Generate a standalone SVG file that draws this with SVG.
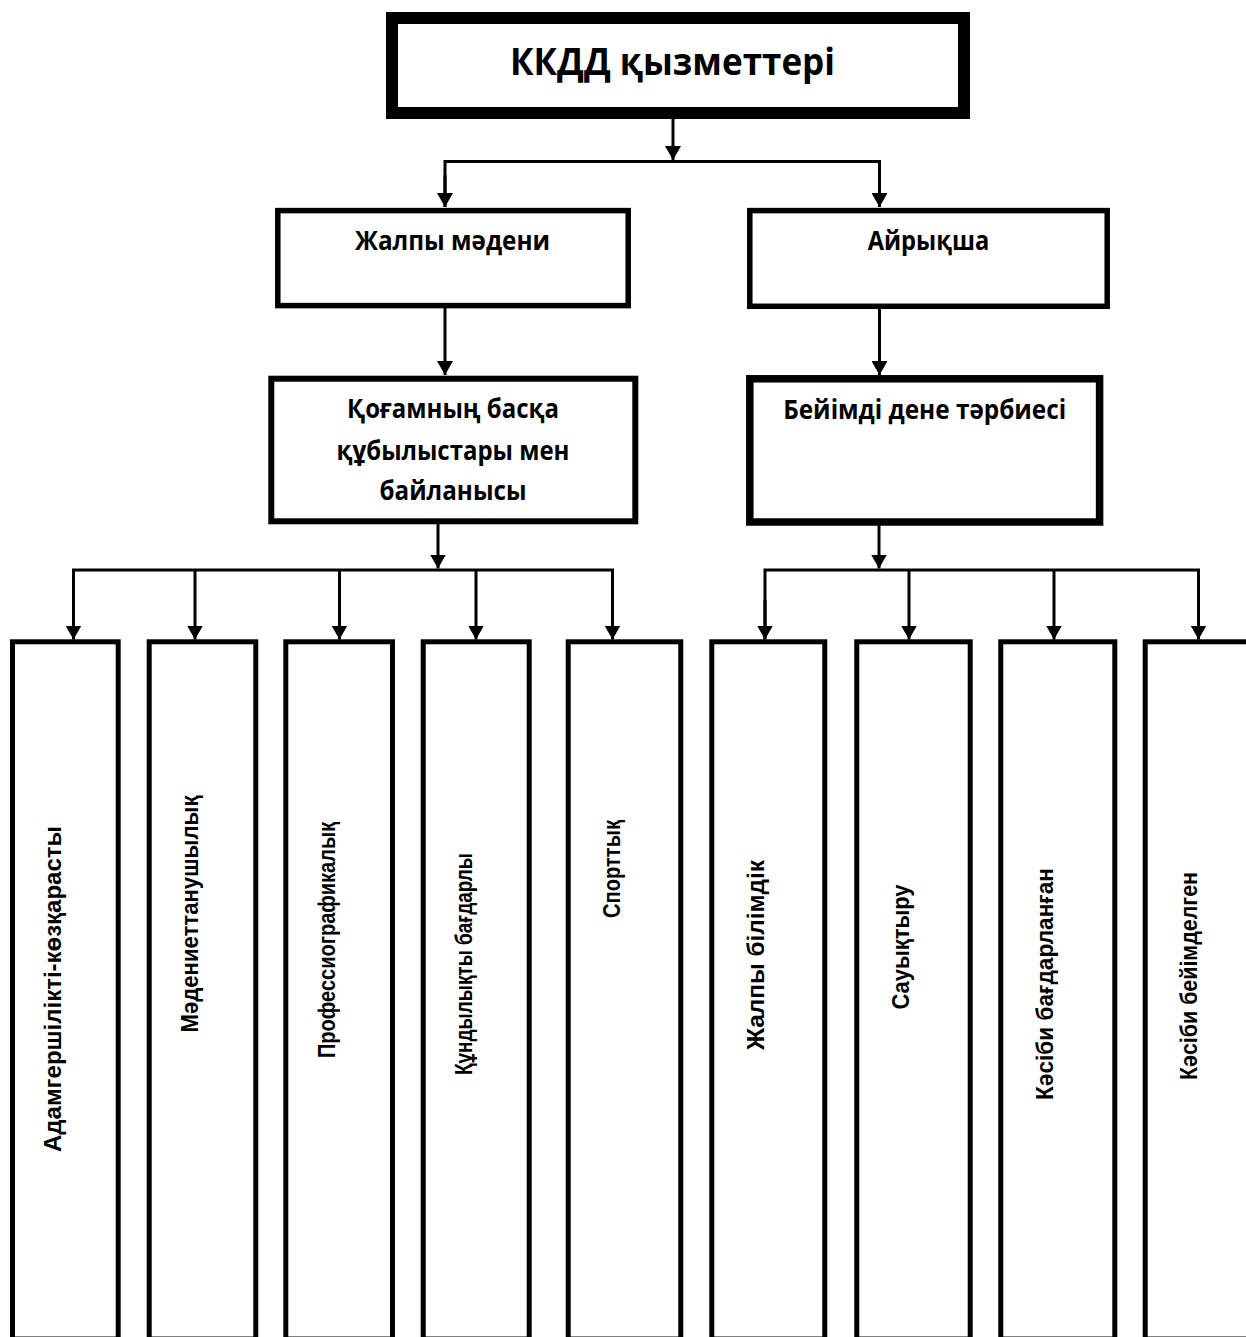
<svg xmlns="http://www.w3.org/2000/svg" width="1246" height="1337" viewBox="0 0 1246 1337">
<style>
.box{fill:#fff;stroke:#000}
.h{font-family:"Open Sans","Noto Sans","DejaVu Sans",sans-serif;font-weight:700;fill:#000;text-anchor:middle}
.v{font-family:"Liberation Sans","Arial","DejaVu Sans",sans-serif;font-weight:700;fill:#000;text-anchor:middle;font-size:23px}
.c{fill:none;stroke:#000;stroke-width:3}
</style>
<defs>
<marker id="ah" viewBox="0 0 14 16" refX="14" refY="8" markerWidth="14" markerHeight="16" markerUnits="userSpaceOnUse" orient="auto">
<path d="M0,0 L14,8 L0,16 z" fill="#000"/>
</marker>
</defs>
<rect width="1246" height="1337" fill="#fff"/>
<g id="connectors">
<path class="c" d="M673,119 V160" marker-end="url(#ah)"/>
<path class="c" d="M445,207 V161.5 H879.5 V207" />
<path class="c" d="M445,175 V207" marker-end="url(#ah)"/>
<path class="c" d="M879.5,175 V207" marker-end="url(#ah)"/>
<path class="c" d="M445,308 V375" marker-end="url(#ah)"/>
<path class="c" d="M879.5,309 V375" marker-end="url(#ah)"/>
<path class="c" d="M438,524 V568.5" marker-end="url(#ah)"/>
<path class="c" d="M879,525 V568.5" marker-end="url(#ah)"/>
<path class="c" d="M73.5,639 V570 H612.5 V639"/>
<path class="c" d="M765,639 V570 H1198.5 V639"/>
<g>
<path class="c" d="M73.5,600 V639.5" marker-end="url(#ah)"/>
<path class="c" d="M195,570 V639.5" marker-end="url(#ah)"/>
<path class="c" d="M339.5,570 V639.5" marker-end="url(#ah)"/>
<path class="c" d="M476,570 V639.5" marker-end="url(#ah)"/>
<path class="c" d="M612.5,600 V639.5" marker-end="url(#ah)"/>
<path class="c" d="M765,600 V639.5" marker-end="url(#ah)"/>
<path class="c" d="M909,570 V639.5" marker-end="url(#ah)"/>
<path class="c" d="M1054,570 V639.5" marker-end="url(#ah)"/>
<path class="c" d="M1198.5,600 V639.5" marker-end="url(#ah)"/>
</g>
</g>
<g id="n-title">
<rect class="box" x="392" y="18" width="572" height="95" stroke-width="12"/>
<text class="h" x="672.5" y="75" font-size="37" textLength="325" lengthAdjust="spacingAndGlyphs">ККДД қызметтері</text>
</g>
<g id="n-zhalpy">
<rect class="box" x="277.8" y="210.6" width="350.4" height="95" stroke-width="5.5"/>
<text class="h" x="452.5" y="250" font-size="26" textLength="195" lengthAdjust="spacingAndGlyphs">Жалпы мәдени</text>
</g>
<g id="n-airyksha">
<rect class="box" x="749.8" y="210.6" width="357.4" height="95.7" stroke-width="5.5"/>
<text class="h" x="928.5" y="250" font-size="26" textLength="121.6" lengthAdjust="spacingAndGlyphs">Айрықша</text>
</g>
<g id="n-kogam">
<rect class="box" x="271.3" y="378.7" width="364" height="142.6" stroke-width="6"/>
<text class="h" x="453" y="418.3" font-size="26" textLength="212" lengthAdjust="spacingAndGlyphs">Қоғамның басқа</text>
<text class="h" x="453" y="460" font-size="26" textLength="233" lengthAdjust="spacingAndGlyphs">құбылыстары мен</text>
<text class="h" x="453" y="500" font-size="26" textLength="147" lengthAdjust="spacingAndGlyphs">байланысы</text>
</g>
<g id="n-beiimdi">
<rect class="box" x="749.8" y="378.8" width="349.8" height="143.2" stroke-width="7.5"/>
<text class="h" x="924.7" y="419.3" font-size="26" textLength="283" lengthAdjust="spacingAndGlyphs">Бейімді дене тәрбиесі</text>
</g>
<g id="n-b1">
<rect class="box" x="12.5" y="641.8" width="105.7" height="697.2" stroke-width="5"/>
<text class="v" transform="translate(61,989) rotate(-90)" textLength="326" lengthAdjust="spacingAndGlyphs">Адамгершілікті-көзқарасты</text>
</g>
<g id="n-b2">
<rect class="box" x="149.2" y="641.8" width="106.6" height="697.2" stroke-width="5"/>
<text class="v" transform="translate(198,914) rotate(-90)" textLength="237" lengthAdjust="spacingAndGlyphs">Мәдениеттанушылық</text>
</g>
<g id="n-b3">
<rect class="box" x="285.8" y="641.8" width="106.7" height="697.2" stroke-width="5"/>
<text class="v" transform="translate(335,940) rotate(-90)" textLength="236" lengthAdjust="spacingAndGlyphs">Профессиографикалық</text>
</g>
<g id="n-b4">
<rect class="box" x="423.2" y="641.8" width="106" height="697.2" stroke-width="5"/>
<text class="v" transform="translate(472,964) rotate(-90)" textLength="222" lengthAdjust="spacingAndGlyphs">Құндылықты бағдарлы</text>
</g>
<g id="n-b5">
<rect class="box" x="568.2" y="641.8" width="112.6" height="697.2" stroke-width="5"/>
<text class="v" transform="translate(620,869) rotate(-90)" textLength="98" lengthAdjust="spacingAndGlyphs">Спорттық</text>
</g>
<g id="n-b6">
<rect class="box" x="711.8" y="641.8" width="113" height="697.2" stroke-width="5"/>
<text class="v" transform="translate(764,955) rotate(-90)" textLength="190" lengthAdjust="spacingAndGlyphs">Жалпы білімдік</text>
</g>
<g id="n-b7">
<rect class="box" x="856.8" y="641.8" width="113.4" height="697.2" stroke-width="5"/>
<text class="v" transform="translate(909,947) rotate(-90)" textLength="125" lengthAdjust="spacingAndGlyphs">Сауықтыру</text>
</g>
<g id="n-b8">
<rect class="box" x="1000.8" y="641.8" width="114" height="697.2" stroke-width="5"/>
<text class="v" transform="translate(1053,984) rotate(-90)" textLength="232" lengthAdjust="spacingAndGlyphs">Кәсіби бағдарланған</text>
</g>
<g id="n-b9">
<rect class="box" x="1145.2" y="641.8" width="114" height="697.2" stroke-width="5"/>
<text class="v" transform="translate(1197,976) rotate(-90)" textLength="208" lengthAdjust="spacingAndGlyphs">Кәсіби бейімделген</text>
</g>
</svg>
